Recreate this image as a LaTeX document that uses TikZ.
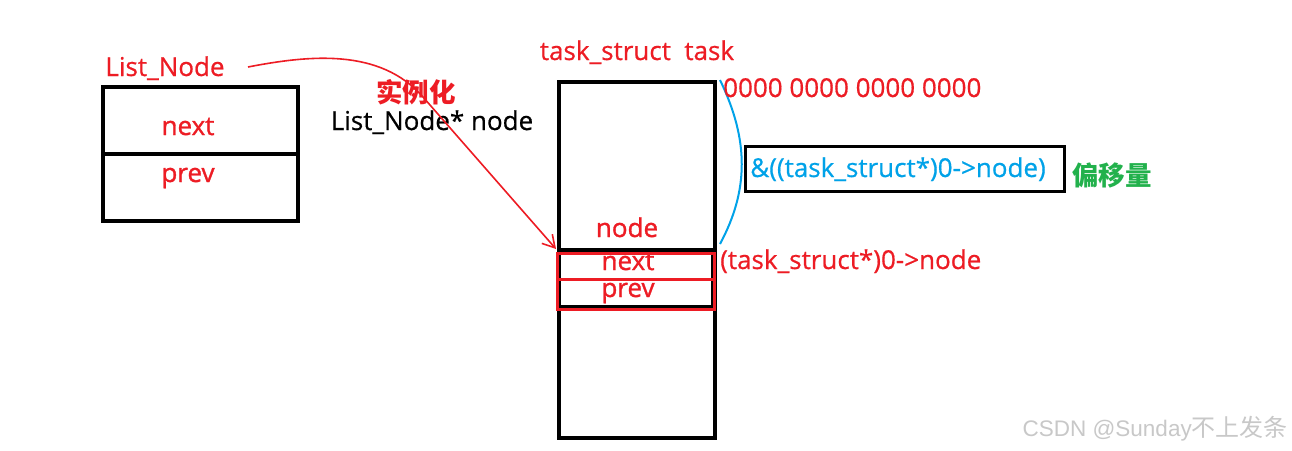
\documentclass[tikz,border=0pt]{standalone}
\usepackage{fontspec}
\setmainfont{Open Sans}
\newfontfamily\heavy[FakeBold=1.2]{Open Sans}
\newfontfamily\medium[FakeBold=0.6]{Open Sans}
\newfontfamily\cjk{Noto Sans CJK SC}
\newfontfamily\wmlatin{Liberation Sans}
\usetikzlibrary{arrows.meta}
\definecolor{pred}{RGB}{237,28,36}
\definecolor{pblue}{RGB}{0,162,232}
\definecolor{pgreen}{RGB}{34,177,76}
\definecolor{wmark}{RGB}{200,200,200}
\tikzset{
  box/.style={draw=black,line width=4pt},
  redbox/.style={draw=pred,line width=3pt},
  lbl/.style={text=pred,font=\medium\fontsize{26}{28}\selectfont,inner sep=0pt,anchor=base},
  fld/.style={text=pred,font=\heavy\fontsize{26}{28}\selectfont,inner sep=0pt,anchor=base},
  blk/.style={text=black,font=\medium\fontsize{26}{28}\selectfont,inner sep=0pt,anchor=base},
  cn/.style={font=\cjk\bfseries\fontsize{26.5}{28}\selectfont,inner sep=0pt},
}
\begin{document}
\begin{tikzpicture}[x=1pt,y=-1pt]
\useasboundingbox[fill=white] (0,0) rectangle (1292,450);

% List_Node structure
\draw[box] (103,87) rectangle (298,221);
\draw[box] (103,154) -- (298,154);
\node[lbl] (ltitle) at (165,76) {List\_Node};
\node[fld] (lnext) at (188,135) {next};
\node[fld] (lprev) at (188,182) {prev};

% instantiation labels
\node[cn,text=pred] (inst) at (416,92) {实例化};
\node[blk] (decl) at (432,130) {List\_Node* node};

% task_struct memory block
\node[lbl] (ttitle) at (637,60) {task\_struct\ \ task};
\draw[box] (559,82) rectangle (715,438);
\draw[box] (559,250) rectangle (713,307);
\draw[redbox] (557,253) rectangle (714,309);
\draw[redbox] (557,279) -- (713,279);
\node[fld] (tnode) at (627,237) {node};
\node[fld] (tnext) at (628,270) {next};
\node[fld] (tprev) at (628,297) {prev};

% arrow from List_Node to the embedded node
\coordinate (astart) at (248,67);
\coordinate (abend) at (423,97);
\coordinate (aend) at (556,249);
\draw[pred,line width=1.6pt,-{Straight Barb[length=12pt,width=14pt,line width=1.6pt]}]
  (astart) .. controls (310,55) and (380,48) .. (abend) -- (aend);

% offset brace and labels
\coordinate (btop) at (720,80);
\coordinate (bbot) at (720,244);
\draw[pblue,line width=2pt] (btop) .. controls (749,140) and (749,190) .. (bbot);
\node[lbl,anchor=base west] (zero) at (723,97) {0000 0000 0000 0000};
\node[draw=black,line width=3pt,minimum width=319pt,minimum height=45pt,inner sep=0pt] (offbox) at (904.5,168.5) {};
\node[lbl,text=pblue] (offtxt) at (898,177) {\&((task\_struct*)0->node)};
\node[cn,text=pgreen] (offset) at (1112,175) {偏移量};
\node[lbl,anchor=base west] (cast) at (720,269) {(task\_struct*)0->node};

% watermark
\node[text=wmark,inner sep=0pt,anchor=base east] (wm) at (1288,436)
  {\wmlatin\fontsize{22.5}{24}\selectfont CSDN @Sunday\cjk\fontsize{24}{26}\selectfont 不上发条};
\end{tikzpicture}
\end{document}
